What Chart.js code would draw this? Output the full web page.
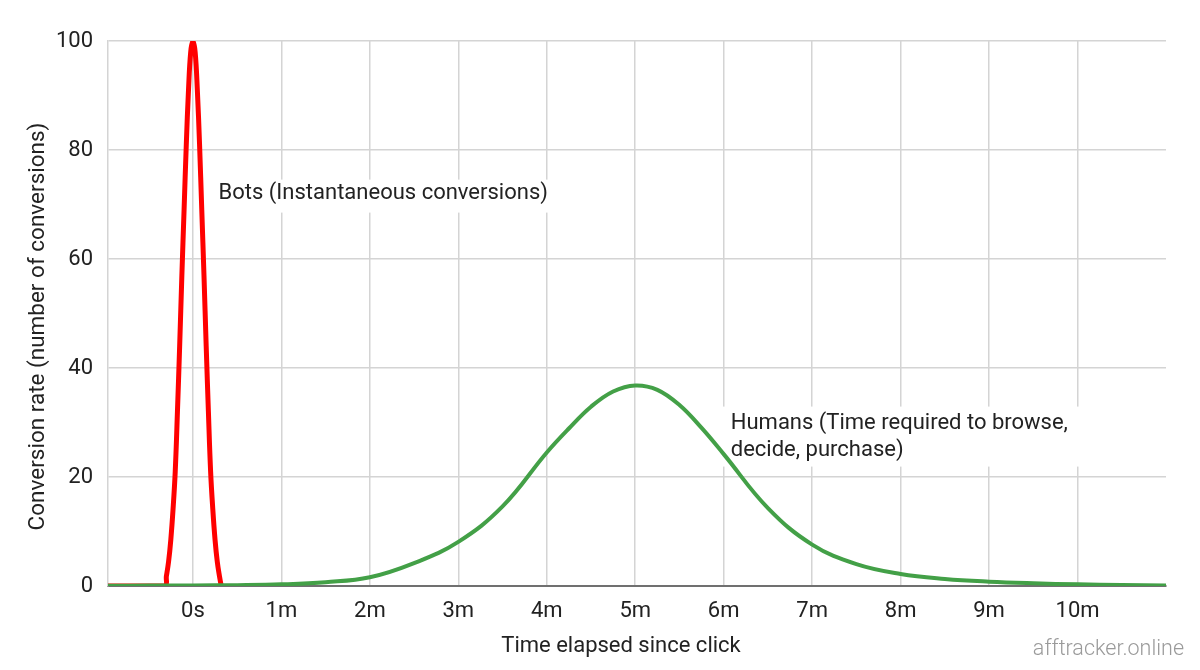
<!DOCTYPE html>
<html lang="en">
<head>
    <meta charset="UTF-8">
    <title>Bots vs humans conversion time</title>
    <script src="https://cdn.jsdelivr.net/npm/chart.js"></script>
    <style>
        html, body { margin: 0; padding: 0; background: #fff; }
        #wrap { width: 1200px; height: 670px; }
    </style>
</head>
<body>
    <div id="wrap"><canvas id="convChart"></canvas></div>

    <script>
        // time in minutes since click
        const botTimes = [-0.96, -0.32, -0.3, -0.275, -0.25, -0.225, -0.2, -0.175, -0.15, -0.125, -0.1, -0.075, -0.05, -0.025,
                          0, 0.025, 0.05, 0.075, 0.1, 0.125, 0.15, 0.175, 0.2, 0.225, 0.25, 0.275, 0.3, 0.32];
        const botRates = [0, 0, 1.8, 4.5, 8.5, 14, 21, 32, 44, 57, 69, 81, 91, 98,
                          100, 98, 91, 81, 69, 57, 44, 32, 21, 14, 8.5, 4.5, 1.8, 0];

        const humanTimes = [-0.96, -0.5, 0, 0.5, 1, 1.5, 2, 2.5, 3, 3.5, 4, 4.25, 4.5, 4.75, 5, 5.25, 5.5, 5.75, 6,
                            6.5, 7, 7.5, 8, 8.5, 9, 9.5, 10, 10.5, 11];
        const humanRates = [0.05, 0.07, 0.1, 0.15, 0.3, 0.7, 1.6, 4.2, 8.1, 14.6, 24.5, 28.9, 32.9, 35.7, 36.8, 36, 33.2, 29, 24.2,
                            14.3, 7.6, 4, 2.2, 1.3, 0.8, 0.5, 0.3, 0.2, 0.1];

        const xTickValues = [0, 1, 2, 3, 4, 5, 6, 7, 8, 9, 10];
        const xTickLabels = ['0s', '1m', '2m', '3m', '4m', '5m', '6m', '7m', '8m', '9m', '10m'];

        const botNote = ['Bots (Instantaneous conversions)'];
        const humanNote = ['Humans (Time required to browse,', 'decide, purchase)'];

        const font = 'Roboto, "Noto Sans", sans-serif';

        const toPoints = (xs, ys) => xs.map((x, i) => ({ x: x, y: ys[i] }));

        // notes on white boxes, titles and watermark
        const notesPlugin = {
            id: 'notes',
            beforeDatasetsDraw(chart) {
                const ctx = chart.ctx;
                const xs = chart.scales.x, ys = chart.scales.y;
                ctx.save();
                ctx.font = '22px ' + font;
                ctx.textBaseline = 'middle';
                ctx.textAlign = 'left';

                function note(lines, tx, ty, box) {
                    const left = xs.getPixelForValue(tx);
                    const top = ys.getPixelForValue(ty);
                    ctx.fillStyle = '#fff';
                    ctx.fillRect(left - box[0], top - box[1], box[2], box[3]);
                    ctx.fillStyle = '#222';
                    lines.forEach((l, i) => ctx.fillText(l, left, top + i * 27));
                }
                note(botNote, 0.29, 72, [4, 14, 340, 33]);
                note(humanNote, 6.08, 29.8, [8, 17, 365, 60]);
                ctx.restore();
            },
            afterDraw(chart) {
                const ctx = chart.ctx;
                const a = chart.chartArea;
                ctx.save();
                ctx.fillStyle = '#222';
                ctx.font = '22px ' + font;
                ctx.textAlign = 'center';
                ctx.textBaseline = 'middle';
                ctx.fillText('Time elapsed since click', (a.left + a.right) / 2 - 16, 646);

                ctx.font = '22.5px ' + font;
                ctx.translate(38, (a.top + a.bottom) / 2 + 13);
                ctx.rotate(-Math.PI / 2);
                ctx.fillText('Conversion rate (number of conversions)', 0, 0);
                ctx.restore();

                ctx.save();
                ctx.fillStyle = '#9a9a9a';
                ctx.font = '300 21.5px ' + font;
                ctx.textAlign = 'right';
                ctx.textBaseline = 'middle';
                ctx.fillText('afftracker.online', 1184, 650);
                ctx.restore();
            }
        };

        const ctx1 = document.getElementById('convChart').getContext('2d');

        new Chart(ctx1, {
            type: 'line',
            data: {
                datasets: [{
                    label: 'Humans',
                    data: toPoints(humanTimes, humanRates),
                    borderColor: '#43a047',
                    borderWidth: 4,
                    pointRadius: 0,
                    tension: 0.4,
                    order: 0,
                    fill: false
                }, {
                    label: 'Bots',
                    data: toPoints(botTimes, botRates),
                    borderColor: '#ff0000',
                    borderWidth: 5,
                    pointRadius: 0,
                    tension: 0.4,
                    order: 1,
                    fill: false
                }]
            },
            options: {
                responsive: true,
                maintainAspectRatio: false,
                animation: false,
                devicePixelRatio: 1,
                layout: { padding: { top: 41, right: 34, left: 0, bottom: 0 } },
                plugins: {
                    legend: { display: false },
                    tooltip: { enabled: false }
                },
                scales: {
                    x: {
                        type: 'linear',
                        min: -0.96,
                        max: 11,
                        afterBuildTicks: (s) => { s.ticks = xTickValues.map(v => ({ value: v })); },
                        afterFit: (s) => { s.height = 84; },
                        grid: { color: '#d4d4d4', lineWidth: 1.5, drawTicks: false },
                        border: { color: '#707070', width: 2 },
                        ticks: {
                            padding: 12,
                            color: '#222',
                            font: { family: font, size: 22 },
                            maxRotation: 0,
                            autoSkip: false,
                            callback: (v) => xTickLabels[xTickValues.indexOf(v)]
                        }
                    },
                    y: {
                        min: 0,
                        max: 100,
                        afterFit: (s) => { s.width = 108; },
                        grid: { color: '#d4d4d4', lineWidth: 1.5, drawTicks: false },
                        border: { color: '#d4d4d4', width: 1.5 },
                        ticks: {
                            stepSize: 20,
                            padding: 15,
                            color: '#222',
                            font: { family: font, size: 22 }
                        }
                    }
                }
            },
            plugins: [notesPlugin]
        });
    </script>
</body>
</html>
